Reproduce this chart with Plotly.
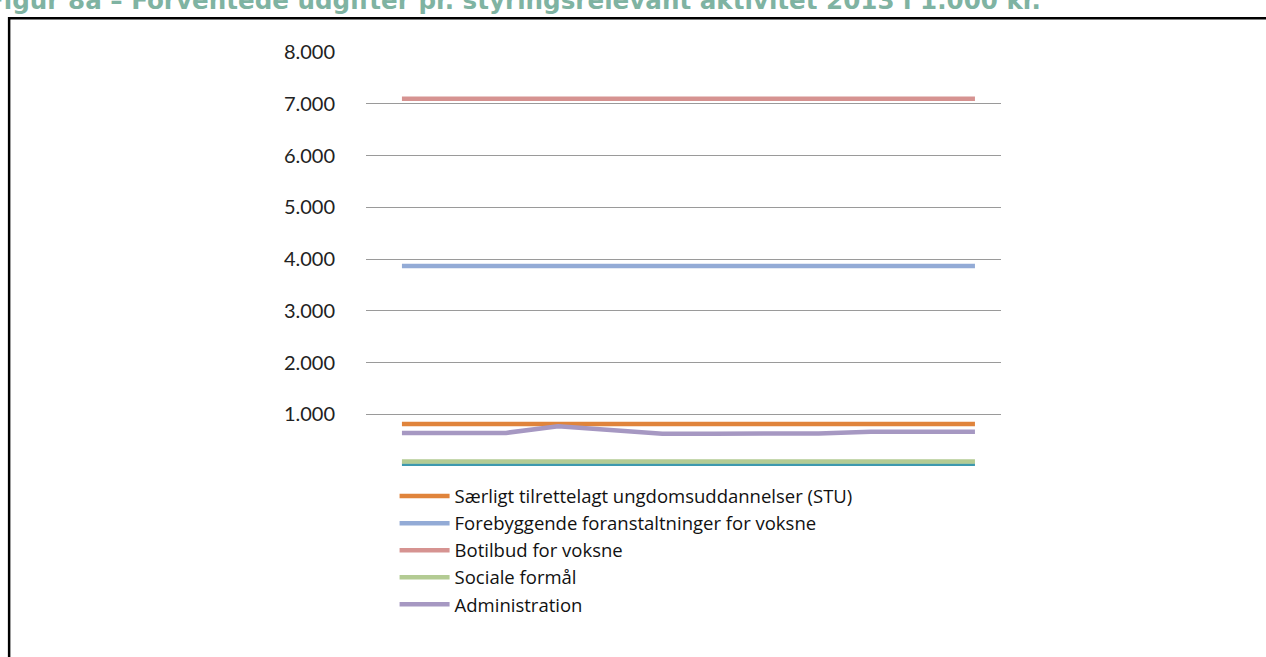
import plotly.graph_objects as go

months = ["jan", "feb", "mar", "apr", "maj", "jun", "jul", "aug", "sep", "okt", "nov", "dec"]

stu = [810, 810, 810, 810, 810, 810, 810, 810, 810, 810, 810, 810]
forebyggende = [3865, 3865, 3865, 3865, 3865, 3865, 3865, 3865, 3865, 3865, 3865, 3865]
botilbud = [7095, 7095, 7095, 7095, 7095, 7095, 7095, 7095, 7095, 7095, 7095, 7095]
sociale = [85, 85, 85, 85, 85, 85, 85, 85, 85, 85, 85, 85]
administration = [640, 640, 640, 770, 700, 625, 625, 625, 630, 660, 660, 660]
oevrige = [10, 10, 10, 10, 10, 10, 10, 10, 10, 10, 10, 10]

y_ticks = [0, 1000, 2000, 3000, 4000, 5000, 6000, 7000, 8000]
y_labels = ["", "1.000", "2.000", "3.000", "4.000", "5.000", "6.000", "7.000", "8.000"]

series = [
    ("Særligt tilrettelagt ungdomsuddannelser (STU)", stu, "#E0843B", True),
    ("Forebyggende foranstaltninger for voksne", forebyggende, "#93ABD6", True),
    ("Botilbud for voksne", botilbud, "#D69391", True),
    ("Sociale formål", sociale, "#B3CB93", True),
    ("Administration", administration, "#A698C2", True),
    ("Øvrige", oevrige, "#3D98AE", False),
]

fig = go.Figure()
# teal line drawn first so the green one sits on top of it
for name, values, color, show in [series[5]] + series[:5]:
    fig.add_trace(go.Scatter(
        x=list(range(len(months))), y=values, name=name, mode="lines",
        line=dict(color=color, width=4.5), showlegend=show,
        legendgroup=name,
    ))

fig.update_layout(
    width=1266, height=657,
    margin=dict(l=366, r=265, t=52, b=191),
    paper_bgcolor="white", plot_bgcolor="white",
    font=dict(family="Lato, Open Sans, sans-serif", color="#222222"),
    showlegend=True,
    legend=dict(
        x=0.045, y=-0.028, xanchor="left", yanchor="top",
        font=dict(family="Open Sans", size=18.5, color="#111111"),
        tracegroupgap=0, bgcolor="rgba(0,0,0,0)",
        traceorder="grouped", itemwidth=50,
    ),
    xaxis=dict(range=[-0.69, 11.5], showgrid=False, showticklabels=False,
               zeroline=False, showline=False, ticks=""),
    yaxis=dict(range=[0, 8000], tickvals=y_ticks, ticktext=y_labels,
               showgrid=True, gridcolor="#9A9A9A", gridwidth=1,
               zeroline=False, showline=False, ticks="",
               ticklabelstandoff=30,
               tickfont=dict(size=20, color="#222222")),
)

fig.add_annotation(
    text="<b>Figur 8a – Forventede udgifter pr. styringsrelevant aktivitet 2013 i 1.000 kr.</b>",
    xref="paper", yref="paper", x=-0.6, y=1.084,
    xanchor="left", yanchor="bottom", showarrow=False,
    font=dict(family="DejaVu Sans", size=24.6, color="#7FB3A2"),
)

fig.add_shape(type="rect", xref="paper", yref="paper",
              x0=-0.562, x1=1.5, y0=-0.6, y1=1.0813,
              line=dict(color="black", width=2.5))

fig.write_html("out.html", config={"displayModeBar": False},
               post_script="document.body.style.margin='0';")
